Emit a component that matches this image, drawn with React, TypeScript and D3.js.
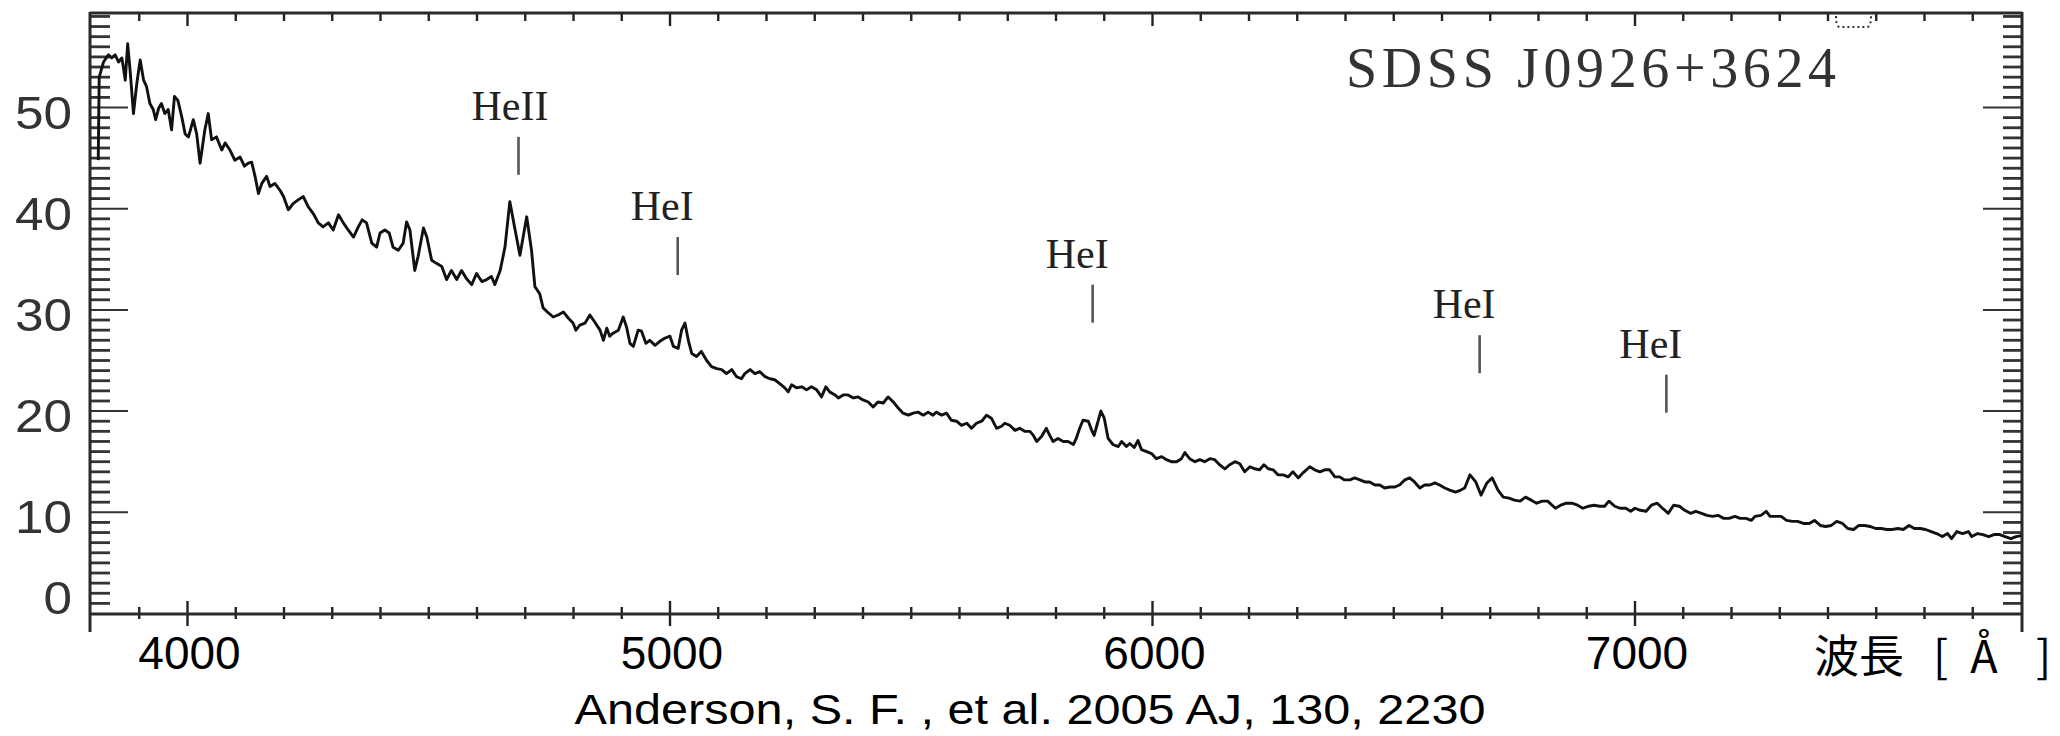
import React, { useRef, useEffect } from 'react';
import * as d3 from 'd3';

// spectrum: wavelength [A] and flux
const waveLengths = [
  3815, 3817, 3826, 3836, 3843, 3850, 3857, 3864, 3867, 3871, 3876, 3881, 3888, 3895, 3902, 3909, 3915, 3922, 3929, 3934,
  3940, 3946, 3953, 3960, 3967, 3973, 3980, 3988, 3995, 4002, 4012, 4019, 4026, 4036, 4043, 4050, 4060, 4071, 4078, 4088,
  4098, 4109, 4118, 4126, 4133, 4140, 4147, 4154, 4164, 4171, 4181, 4192, 4199, 4209, 4219, 4230, 4240, 4250, 4261, 4271,
  4281, 4292, 4302, 4313, 4323, 4333, 4344, 4354, 4362, 4371, 4382, 4392, 4399, 4409, 4418, 4426, 4437, 4447, 4454, 4461,
  4471, 4478, 4489, 4496, 4506, 4516, 4527, 4537, 4547, 4558, 4568, 4578, 4589, 4599, 4610, 4620, 4630, 4637, 4648, 4658,
  4668, 4679, 4689, 4703, 4713, 4720, 4730, 4737, 4748, 4758, 4768, 4779, 4789, 4799, 4805, 4813, 4824, 4834, 4844, 4855,
  4862, 4869, 4875, 4882, 4893, 4903, 4910, 4917, 4924, 4934, 4941, 4950, 4958, 4969, 4979, 4989, 5000, 5007, 5017, 5024,
  5031, 5038, 5045, 5055, 5065, 5076, 5086, 5097, 5107, 5117, 5128, 5138, 5148, 5155, 5166, 5176, 5186, 5197, 5207, 5217,
  5228, 5238, 5245, 5252, 5262, 5273, 5283, 5293, 5304, 5314, 5323, 5331, 5342, 5349, 5359, 5369, 5380, 5390, 5400, 5411,
  5421, 5431, 5442, 5452, 5463, 5473, 5483, 5494, 5504, 5514, 5525, 5535, 5545, 5552, 5563, 5573, 5583, 5594, 5604, 5615,
  5625, 5635, 5646, 5656, 5666, 5677, 5687, 5694, 5704, 5715, 5725, 5735, 5746, 5753, 5760, 5770, 5780, 5787, 5794, 5804,
  5815, 5825, 5836, 5842, 5849, 5856, 5867, 5874, 5879, 5886, 5893, 5900, 5908, 5918, 5929, 5936, 5946, 5953, 5962, 5970,
  5977, 5988, 5998, 6008, 6019, 6029, 6039, 6050, 6060, 6067, 6077, 6088, 6098, 6108, 6119, 6129, 6139, 6150, 6160, 6171,
  6181, 6191, 6202, 6212, 6222, 6231, 6240, 6250, 6260, 6271, 6281, 6291, 6302, 6312, 6326, 6336, 6347, 6357, 6367, 6378,
  6388, 6398, 6409, 6419, 6430, 6440, 6450, 6461, 6471, 6481, 6492, 6502, 6512, 6523, 6533, 6543, 6554, 6564, 6575, 6585,
  6595, 6606, 6616, 6628, 6639, 6647, 6658, 6670, 6681, 6693, 6704, 6716, 6727, 6739, 6750, 6762, 6773, 6785, 6796, 6808,
  6819, 6835, 6846, 6858, 6869, 6881, 6892, 6904, 6915, 6927, 6937, 6946, 6958, 6969, 6981, 6991, 7000, 7011, 7023, 7034,
  7046, 7057, 7069, 7080, 7092, 7103, 7115, 7126, 7138, 7149, 7161, 7172, 7184, 7195, 7207, 7218, 7230, 7241, 7249, 7261,
  7272, 7280, 7291, 7303, 7314, 7326, 7337, 7349, 7361, 7372, 7384, 7395, 7407, 7418, 7430, 7441, 7453, 7464, 7476, 7487,
  7499, 7510, 7522, 7533, 7545, 7556, 7568, 7579, 7591, 7602, 7614, 7625, 7637, 7648, 7656, 7667, 7679, 7691, 7698, 7710,
  7721, 7733, 7744, 7756, 7767, 7779, 7790, 7800
];

const fluxValues = [
  44.8, 53.0, 54.5, 55.2, 54.9, 55.2, 54.5, 54.9, 54.0, 52.7, 56.3, 53.7, 49.4, 52.4, 54.7, 52.7, 52.1, 50.4, 49.8, 48.8,
  49.9, 50.4, 49.4, 49.8, 47.8, 51.1, 50.7, 49.1, 47.4, 47.1, 48.8, 47.4, 44.5, 47.8, 49.4, 46.8, 47.1, 45.8, 46.5, 45.8,
  44.8, 45.1, 44.2, 44.5, 44.6, 43.2, 41.5, 42.5, 43.2, 42.2, 42.5, 41.8, 41.2, 39.9, 40.5, 40.9, 41.2, 40.2, 39.5, 38.6,
  38.2, 38.6, 37.9, 39.4, 38.6, 37.9, 37.2, 38.2, 38.9, 38.6, 36.6, 36.2, 37.6, 37.9, 37.6, 36.2, 35.9, 36.6, 38.7, 37.9,
  33.9, 35.3, 38.1, 37.2, 34.9, 34.6, 34.3, 33.0, 33.9, 33.0, 33.9, 33.1, 32.5, 33.6, 32.8, 33.0, 33.3, 32.5, 33.9, 36.2,
  40.7, 37.9, 35.4, 39.2, 35.9, 32.3, 31.6, 30.2, 29.7, 29.3, 29.5, 29.8, 29.2, 28.7, 28.0, 28.5, 28.7, 29.5, 28.8, 28.0,
  27.0, 28.2, 27.4, 27.7, 28.0, 29.3, 28.3, 26.7, 26.4, 28.0, 27.9, 26.7, 27.0, 26.5, 26.9, 27.2, 27.4, 26.4, 26.2, 28.0,
  28.7, 27.0, 25.7, 25.4, 25.9, 25.0, 24.4, 24.2, 24.1, 23.7, 24.1, 23.4, 23.2, 23.7, 24.1, 23.7, 23.9, 23.4, 23.2, 23.1,
  22.7, 22.3, 21.9, 22.6, 22.3, 22.4, 22.1, 22.4, 22.1, 21.4, 22.4, 21.9, 21.6, 21.3, 21.6, 21.6, 21.3, 21.4, 21.1, 20.9,
  20.4, 20.9, 20.8, 21.4, 20.9, 20.3, 19.8, 19.6, 19.8, 19.9, 19.6, 19.9, 19.6, 19.9, 19.6, 19.8, 19.1, 19.0, 18.6, 18.8,
  18.3, 18.8, 19.0, 19.6, 19.3, 18.3, 18.5, 18.8, 18.6, 18.1, 18.3, 18.0, 18.0, 17.6, 17.0, 17.5, 18.3, 17.6, 17.0, 17.3,
  17.0, 17.0, 16.7, 17.3, 18.3, 19.1, 19.0, 18.1, 17.6, 18.8, 20.0, 19.3, 17.3, 16.7, 16.5, 17.0, 16.5, 16.8, 16.4, 17.1,
  16.2, 16.0, 15.8, 15.3, 15.5, 15.2, 15.0, 15.0, 15.3, 15.9, 15.3, 15.0, 15.2, 15.0, 15.3, 15.2, 14.7, 14.3, 14.7, 15.0,
  14.8, 14.0, 14.5, 14.3, 14.2, 14.7, 14.3, 14.2, 13.7, 13.7, 13.5, 14.0, 13.4, 13.9, 14.5, 14.2, 14.0, 14.2, 14.2, 13.5,
  13.5, 13.2, 13.2, 13.4, 13.2, 13.0, 13.0, 12.7, 12.7, 12.4, 12.5, 12.5, 12.7, 13.2, 13.4, 13.0, 12.4, 12.7, 12.7, 12.9,
  12.7, 12.4, 12.2, 12.0, 12.2, 12.4, 13.7, 13.0, 11.7, 12.9, 13.4, 12.2, 11.5, 11.4, 11.2, 11.1, 11.5, 11.2, 10.9, 11.1,
  11.1, 10.4, 10.7, 10.9, 10.9, 10.7, 10.4, 10.6, 10.7, 10.6, 10.6, 11.1, 10.6, 10.4, 10.4, 10.1, 10.4, 10.2, 10.1, 10.7,
  10.9, 10.4, 9.9, 10.7, 10.6, 10.2, 9.9, 10.1, 9.9, 9.7, 9.6, 9.7, 9.4, 9.4, 9.6, 9.4, 9.4, 9.2, 9.6, 9.7,
  10.1, 9.6, 9.6, 9.6, 9.2, 9.1, 9.1, 8.9, 8.9, 9.2, 8.7, 8.6, 8.7, 9.1, 8.9, 8.4, 8.3, 8.7, 8.7, 8.6,
  8.4, 8.4, 8.3, 8.3, 8.4, 8.3, 8.7, 8.4, 8.4, 8.3, 8.1, 7.9, 7.6, 7.9, 7.4, 8.1, 7.9, 8.1, 7.6, 7.9,
  7.8, 7.6, 7.8, 7.8, 7.6, 7.4, 7.6, 7.7
];

const xTickLabels = [4000, 5000, 6000, 7000];
const yTickLabels = [0, 10, 20, 30, 40, 50];

// identified emission lines
const lineNames = ['HeII', 'HeI', 'HeI', 'HeI', 'HeI'];
const lineWaves = [4686, 5016, 5876, 6678, 7065];
const lineLevels = [47.1, 37.2, 32.5, 27.5, 23.6];

const objectName = 'SDSS J0926+3624';
const citation = 'Anderson, S. F. , et al. 2005 AJ, 130, 2230';

function App() {
  const ref = useRef<SVGSVGElement>(null);

  useEffect(() => {
    document.body.style.margin = '0';
    const svg = d3.select(ref.current);
    svg.selectAll('*').remove();

    const left = 90, right = 2022, top = 13, bottom = 614;
    const x = d3.scaleLinear().domain([3800, 7800]).range([91, 2021]);
    const y = d3.scaleLinear().domain([0, 59.3]).range([613.5, 13.4]);
    const ink = '#222';

    // x ticks, top and bottom
    const xt = d3.range(3900, 7800, 100);
    svg.append('g').selectAll('line').data(xt).enter().append('line')
      .attr('x1', d => x(d)).attr('x2', d => x(d))
      .attr('y1', top).attr('y2', d => top + (d % 1000 === 0 ? 13 : 8))
      .attr('stroke', ink).attr('stroke-width', 2.4);
    svg.append('g').selectAll('line').data(xt).enter().append('line')
      .attr('x1', d => x(d)).attr('x2', d => x(d))
      .attr('y1', d => bottom - (d % 1000 === 0 ? 13 : 7))
      .attr('y2', d => bottom + (d % 1000 === 0 ? 12 : 5))
      .attr('stroke', ink).attr('stroke-width', 2.4);

    // y ticks, left and right
    const yt = d3.range(1, 60);
    svg.append('g').selectAll('line').data(yt).enter().append('line')
      .attr('x1', left).attr('x2', d => left + (d % 10 === 0 ? 38 : 20))
      .attr('y1', d => y(d)).attr('y2', d => y(d))
      .attr('stroke', '#333').attr('stroke-width', d => d % 10 === 0 ? 2 : 2.8);
    svg.append('g').selectAll('line').data(yt).enter().append('line')
      .attr('x1', right).attr('x2', d => right - (d % 10 === 0 ? 39 : 19))
      .attr('y1', d => y(d)).attr('y2', d => y(d))
      .attr('stroke', '#333').attr('stroke-width', d => d % 10 === 0 ? 2 : 2.8);

    // frame
    const frame = svg.append('g').attr('stroke', '#2a2a2a').attr('stroke-width', 3);
    frame.append('line').attr('x1', left).attr('x2', right).attr('y1', top).attr('y2', top);
    frame.append('line').attr('x1', left).attr('x2', right).attr('y1', bottom).attr('y2', bottom);
    frame.append('line').attr('x1', left).attr('x2', left).attr('y1', top - 1).attr('y2', 632);
    frame.append('line').attr('x1', right).attr('x2', right).attr('y1', top - 1).attr('y2', 632);

    // small dotted marker under the top axis
    svg.append('path')
      .attr('d', 'M1836,16 Q1836,27 1840,27 L1867,27 Q1871,27 1871,16')
      .attr('fill', 'none').attr('stroke', '#333').attr('stroke-width', 2)
      .attr('stroke-dasharray', '2 3');

    // spectrum
    const pts = waveLengths.map((w, i) => [w, fluxValues[i]] as [number, number]);
    const line = d3.line<[number, number]>().x(d => x(d[0])).y(d => y(d[1]));
    svg.append('path')
      .datum(pts)
      .attr('d', line)
      .attr('fill', 'none')
      .attr('stroke', '#111')
      .attr('stroke-width', 2.9)
      .attr('stroke-linejoin', 'round');

    // line identifications
    const ids = svg.append('g');
    lineWaves.forEach((w, i) => {
      ids.append('line')
        .attr('x1', x(w)).attr('x2', x(w))
        .attr('y1', y(lineLevels[i])).attr('y2', y(lineLevels[i]) + 38)
        .attr('stroke', '#555').attr('stroke-width', 2.6);
      ids.append('text')
        .attr('x', x(w) - 47)
        .attr('y', y(lineLevels[i]) - 17)
        .attr('font-family', '"Liberation Serif", serif')
        .attr('font-size', 42)
        .attr('fill', ink)
        .text(lineNames[i]);
    });

    svg.append('text')
      .attr('x', 1346).attr('y', 87)
      .attr('font-family', '"Liberation Serif", serif')
      .attr('font-size', 56)
      .attr('textLength', 490)
      .attr('lengthAdjust', 'spacing')
      .attr('fill', '#333')
      .text(objectName);

    // y tick labels
    svg.append('g').selectAll('text').data(yTickLabels).enter().append('text')
      .attr('x', 72)
      .attr('y', d => d === 0 ? y(0) : y(d) + 21)
      .attr('text-anchor', 'end')
      .attr('font-family', '"Liberation Sans", Arial, sans-serif')
      .attr('font-size', 46)
      .attr('textLength', d => String(d).length * 28.5)
      .attr('lengthAdjust', 'spacingAndGlyphs')
      .attr('fill', '#333')
      .text(d => d);

    // x tick labels
    svg.append('g').selectAll('text').data(xTickLabels).enter().append('text')
      .attr('x', d => x(d) + 2)
      .attr('y', 669)
      .attr('text-anchor', 'middle')
      .attr('font-family', '"Liberation Sans", Arial, sans-serif')
      .attr('font-size', 46)
      .attr('fill', '#000')
      .text(d => d);

    // axis label
    const lab = svg.append('g')
      .attr('font-family', '"Noto Sans CJK JP", sans-serif')
      .attr('font-size', 45)
      .attr('fill', '#000');
    lab.append('text').attr('x', 1814).attr('y', 673).text('波長');
    lab.append('text').attr('x', 1933).attr('y', 673).text('[');
    lab.append('text').attr('x', 1984).attr('y', 673).attr('text-anchor', 'middle').text('Å');
    lab.append('text').attr('x', 2036).attr('y', 673).text(']');

    svg.append('text')
      .attr('x', 1030).attr('y', 724)
      .attr('text-anchor', 'middle')
      .attr('font-family', '"Liberation Sans", Arial, sans-serif')
      .attr('font-size', 43)
      .attr('textLength', 911)
      .attr('lengthAdjust', 'spacingAndGlyphs')
      .attr('fill', '#000')
      .text(citation);
  }, []);

  return (
    <svg ref={ref} width={2060} height={736} style={{ display: 'block', background: '#fff' }} />
  );
}

export default App;
